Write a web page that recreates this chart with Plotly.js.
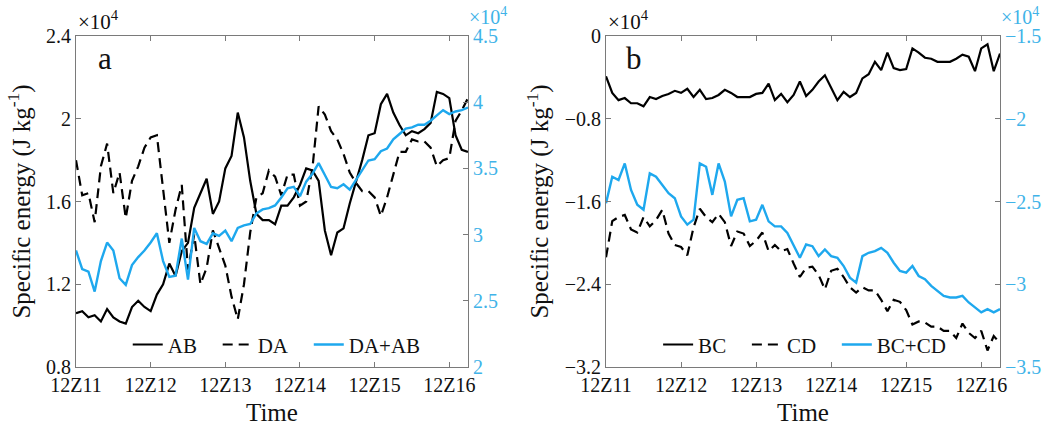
<!DOCTYPE html>
<html>
<head>
<meta charset="utf-8">
<script src="https://cdn.plot.ly/plotly-3.0.1.min.js"></script>
<style>html,body{margin:0;padding:0;background:#fff;}#chart{width:1054px;height:429px;}</style>
</head>
<body>
<div id="chart"></div>
<script>
// Time in hours after 12Z11 (2-hourly)
const hours = [0,2,4,6,8,10,12,14,16,18,20,22,24,26,28,30,32,34,36,38,40,42,44,46,48,50,52,54,56,58,60,62,
  64,66,68,70,72,74,76,78,80,82,84,86,88,90,92,94,96,98,100,102,104,106,108,110,112,114,116,118,120,122,124,126];
const tickHours = [0,24,48,72,96,120];
const tickLabels = ['12Z11','12Z12','12Z13','12Z14','12Z15','12Z16'];
const seriesNames = ['AB','DA','DA+AB','BC','CD','BC+CD'];

// Panel a (values in 10^4 J kg^-1)
const AB = [1.06,1.07,1.04,1.05,1.02,1.08,1.04,1.02,1.01,1.09,1.12,1.09,1.07,1.15,1.20,1.30,1.24,1.36,1.40,1.57,1.64,1.71,1.54,1.60,
  1.76,1.82,2.03,1.91,1.70,1.54,1.51,1.51,1.49,1.58,1.58,1.62,1.68,1.76,1.75,1.70,1.46,1.34,1.45,1.47,1.59,1.69,1.80,1.92,
  1.93,2.07,2.12,2.03,1.97,1.92,1.94,1.93,1.95,1.98,2.13,2.12,2.10,1.92,1.85,1.84];
const DA = [1.80,1.63,1.64,1.50,1.77,1.88,1.64,1.74,1.52,1.70,1.77,1.86,1.91,1.92,1.66,1.40,1.56,1.68,1.27,1.44,1.20,1.28,1.46,1.38,
  1.29,1.14,1.03,1.20,1.45,1.62,1.64,1.75,1.72,1.63,1.73,1.73,1.58,1.60,1.76,2.06,2.02,1.94,1.90,1.83,1.74,1.69,1.65,1.65,
  1.62,1.53,1.62,1.73,1.84,1.84,1.90,1.89,1.89,1.86,1.77,1.80,1.81,1.99,2.04,2.10];
const DA_AB = [2.88,2.74,2.72,2.57,2.80,2.94,2.88,2.67,2.62,2.77,2.83,2.88,2.94,3.01,2.80,2.68,2.69,2.97,2.66,3.05,2.95,2.93,3.01,2.99,
  3.03,2.95,3.05,3.07,3.08,3.16,3.19,3.20,3.22,3.28,3.35,3.36,3.29,3.40,3.46,3.54,3.45,3.36,3.35,3.38,3.34,3.41,3.49,3.56,
  3.57,3.63,3.65,3.72,3.76,3.80,3.81,3.83,3.83,3.86,3.90,3.94,3.91,3.93,3.94,3.96];

// Panel b (values in 10^4 J kg^-1)
const BC = [-0.39,-0.55,-0.62,-0.60,-0.65,-0.65,-0.68,-0.59,-0.61,-0.58,-0.56,-0.53,-0.55,-0.51,-0.59,-0.52,-0.61,-0.60,-0.57,-0.52,
  -0.55,-0.59,-0.59,-0.59,-0.56,-0.55,-0.46,-0.62,-0.56,-0.64,-0.57,-0.44,-0.58,-0.52,-0.44,-0.38,-0.50,-0.62,-0.54,-0.59,
  -0.55,-0.41,-0.37,-0.25,-0.33,-0.16,-0.31,-0.33,-0.32,-0.12,-0.16,-0.21,-0.22,-0.25,-0.25,-0.25,-0.22,-0.18,-0.20,-0.34,
  -0.12,-0.08,-0.34,-0.17];
const CD = [-2.14,-1.79,-1.75,-1.73,-1.87,-1.90,-1.75,-1.84,-1.78,-1.68,-1.91,-2.02,-2.04,-2.12,-1.85,-1.67,-1.75,-1.80,-1.72,-1.80,
  -2.03,-1.89,-1.91,-2.03,-1.98,-1.90,-2.08,-2.02,-2.08,-2.06,-2.20,-2.33,-2.24,-2.23,-2.31,-2.45,-2.27,-2.25,-2.33,-2.43,
  -2.48,-2.43,-2.46,-2.46,-2.55,-2.66,-2.55,-2.57,-2.65,-2.79,-2.76,-2.77,-2.81,-2.81,-2.85,-2.85,-2.92,-2.78,-2.87,-2.92,
  -2.85,-3.04,-2.90,-2.97];
const BC_CD = [-2.51,-2.35,-2.37,-2.27,-2.43,-2.52,-2.55,-2.33,-2.35,-2.40,-2.45,-2.48,-2.59,-2.64,-2.61,-2.27,-2.29,-2.46,-2.27,-2.38,
  -2.59,-2.49,-2.48,-2.62,-2.61,-2.52,-2.62,-2.65,-2.65,-2.69,-2.77,-2.84,-2.76,-2.77,-2.83,-2.79,-2.83,-2.84,-2.89,-2.96,
  -2.99,-2.83,-2.81,-2.80,-2.78,-2.81,-2.87,-2.92,-2.93,-2.89,-2.95,-2.97,-3.01,-3.04,-3.07,-3.08,-3.08,-3.07,-3.11,-3.14,
  -3.17,-3.15,-3.17,-3.15];

const FONT = '"Liberation Serif", "Times New Roman", serif';
const BLACK = '#000000';
const BLUE = '#1EA8EE';
const BLUE_TXT = '#3FB3E8';
const AXC = '#7a7a7a';
const DASH = '10px,6px';
const PAD = '\u00A0\u00A0\u00A0';

const traces = [
  {x: hours, y: AB, name: seriesNames[0] + PAD, xaxis: 'x', yaxis: 'y', mode: 'lines', line: {color: BLACK, width: 2.2}, legend: 'legend'},
  {x: hours, y: DA, name: seriesNames[1] + PAD, xaxis: 'x', yaxis: 'y', mode: 'lines', line: {color: BLACK, width: 2.2, dash: DASH}, legend: 'legend'},
  {x: hours, y: DA_AB, name: seriesNames[2], xaxis: 'x', yaxis: 'y2', mode: 'lines', line: {color: BLUE, width: 2.4}, legend: 'legend'},
  {x: hours, y: BC, name: seriesNames[3] + PAD, xaxis: 'x2', yaxis: 'y3', mode: 'lines', line: {color: BLACK, width: 2.2}, legend: 'legend2'},
  {x: hours, y: CD, name: seriesNames[4] + PAD, xaxis: 'x2', yaxis: 'y3', mode: 'lines', line: {color: BLACK, width: 2.2, dash: DASH}, legend: 'legend2'},
  {x: hours, y: BC_CD, name: seriesNames[5], xaxis: 'x2', yaxis: 'y4', mode: 'lines', line: {color: BLUE, width: 2.4}, legend: 'legend2'}
];

function xax(domain, anchor) {
  return {
    domain: domain, anchor: anchor, range: [0, 126],
    tickmode: 'array', tickvals: tickHours, ticktext: tickLabels,
    ticks: 'inside', ticklen: 5, tickcolor: AXC, showline: true, linecolor: AXC, linewidth: 1,
    mirror: 'ticks', showgrid: false, zeroline: false,
    tickfont: {family: FONT, size: 20, color: '#111'},
    title: {text: 'Time', font: {family: FONT, size: 25, color: '#111'}, standoff: 8}
  };
}
function yleft(range, dtick, anchor, titleText) {
  return {
    domain: [0, 1], anchor: anchor, range: range, dtick: dtick, tick0: range[0],
    ticks: 'inside', ticklen: 5, tickcolor: AXC, showline: true, linecolor: AXC, linewidth: 1,
    showgrid: false, zeroline: false,
    tickfont: {family: FONT, size: 20, color: '#111'},
    title: {text: titleText, font: {family: FONT, size: 25, color: '#111'}, standoff: 8}
  };
}
function yright(range, dtick, anchor, overlay) {
  return {
    domain: [0, 1], anchor: anchor, overlaying: overlay, side: 'right', range: range, dtick: dtick, tick0: range[0],
    ticks: 'inside', ticklen: 5, tickcolor: AXC, showline: true, linecolor: AXC, linewidth: 1,
    showgrid: false, zeroline: false,
    tickfont: {family: FONT, size: 20, color: BLUE_TXT}
  };
}

const legendBase = {
  orientation: 'h', yanchor: 'bottom', y: 0.005, xanchor: 'left',
  bgcolor: 'rgba(0,0,0,0)', borderwidth: 0,
  font: {family: FONT, size: 21, color: '#111'}, itemwidth: 30, tracegroupgap: 0
};

const layout = {
  width: 1054, height: 429,
  margin: {l: 76, r: 54, t: 36, b: 62},
  paper_bgcolor: '#fff', plot_bgcolor: '#fff',
  showlegend: true,
  xaxis: xax([0, 0.4242], 'y'),
  xaxis2: xax([0.5736, 1], 'y3'),
  yaxis: yleft([0.8, 2.4], 0.4, 'x', 'Specific energy (J kg<sup>-1</sup>)'),
  yaxis2: yright([2, 4.5], 0.5, 'x', 'y'),
  yaxis3: yleft([-3.2, 0], 0.8, 'x2', 'Specific energy (J kg<sup>-1</sup>)'),
  yaxis4: yright([-3.5, -1.5], 0.5, 'x2', 'y3'),
  legend: Object.assign({}, legendBase, {x: 0.056}),
  legend2: Object.assign({}, legendBase, {x: 0.630}),
  annotations: [
    {text: 'a', xref: 'x domain', yref: 'y domain', x: 0.05, y: 0.99, xanchor: 'left', yanchor: 'top', showarrow: false, font: {family: FONT, size: 31, color: '#111'}},
    {text: 'b', xref: 'x2 domain', yref: 'y3 domain', x: 0.045, y: 0.99, xanchor: 'left', yanchor: 'top', showarrow: false, font: {family: FONT, size: 31, color: '#111'}},
    {text: '×10<sup>4</sup>', xref: 'x domain', yref: 'y domain', x: 0, y: 1, xanchor: 'left', yanchor: 'bottom', yshift: 0, showarrow: false, font: {family: FONT, size: 21, color: '#111'}},
    {text: '×10<sup>4</sup>', xref: 'x domain', yref: 'y domain', x: 1, y: 1, xanchor: 'left', yanchor: 'bottom', yshift: 7, borderpad: 0, showarrow: false, font: {family: FONT, size: 20, color: BLUE_TXT}},
    {text: '×10<sup>4</sup>', xref: 'x2 domain', yref: 'y3 domain', x: 0, y: 1, xanchor: 'left', yanchor: 'bottom', yshift: 0, showarrow: false, font: {family: FONT, size: 21, color: '#111'}},
    {text: '×10<sup>4</sup>', xref: 'x2 domain', yref: 'y3 domain', x: 1, y: 1, xanchor: 'left', yanchor: 'bottom', yshift: 7, borderpad: 0, showarrow: false, font: {family: FONT, size: 20, color: BLUE_TXT}}
  ]
};

Plotly.newPlot('chart', traces, layout, {displayModeBar: false, staticPlot: true});
</script>
</body>
</html>
